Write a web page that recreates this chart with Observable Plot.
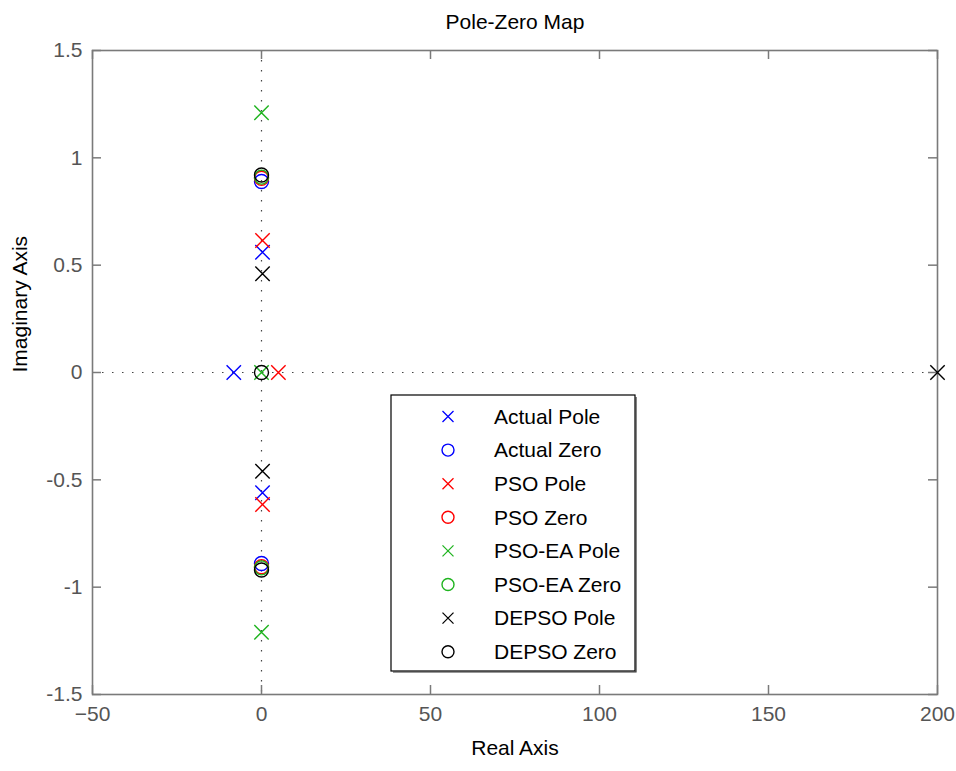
<!DOCTYPE html>
<html>
<head>
<meta charset="utf-8">
<script src="https://cdn.jsdelivr.net/npm/d3@7"></script>
<script src="https://cdn.jsdelivr.net/npm/@observablehq/plot@0.6"></script>
<style>
  html, body { margin: 0; padding: 0; background: #fff; }
  #wrap { position: relative; width: 956px; height: 771px; font-family: "Liberation Sans", Arial, sans-serif; }
  #legend { position: absolute; left: 390px; top: 394px; }
</style>
</head>
<body>
<div id="wrap"></div>
<script>
// ---- data ----
const xTicks = [-50, 0, 50, 100, 150, 200];
const yTicks = [-1.5, -1, -0.5, 0, 0.5, 1, 1.5];
const yTickLabels = ["-1.5", "-1", "-0.5", "0", "0.5", "1", "1.5"];

const seriesNames = ["Actual Pole", "Actual Zero", "PSO Pole", "PSO Zero", "PSO-EA Pole", "PSO-EA Zero", "DEPSO Pole", "DEPSO Zero"];
const seriesColors = ["#0000ff", "#0000ff", "#ff0000", "#ff0000", "#1fb41f", "#1fb41f", "#000000", "#000000"];
const seriesSymbols = ["times", "circle", "times", "circle", "times", "circle", "times", "circle"];

const actualPoleRe = [-8.2, 0.3, 0.3];
const actualPoleIm = [0, 0.56, -0.56];
const actualZeroRe = [0, 0];
const actualZeroIm = [0.89, -0.89];
const psoPoleRe = [5.0, 0.3, 0.3];
const psoPoleIm = [0, 0.615, -0.615];
const psoZeroRe = [0, 0];
const psoZeroIm = [0.905, -0.905];
const psoeaPoleRe = [0, 0, 0];
const psoeaPoleIm = [0, 1.21, -1.21];
const psoeaZeroRe = [0, 0];
const psoeaZeroIm = [0.91, -0.91];
const depsoPoleRe = [200, 0.3, 0.3];
const depsoPoleIm = [0, 0.46, -0.46];
const depsoZeroRe = [0, 0, 0];
const depsoZeroIm = [0.92, -0.92, 0];

const seriesRe = [actualPoleRe, actualZeroRe, psoPoleRe, psoZeroRe, psoeaPoleRe, psoeaZeroRe, depsoPoleRe, depsoZeroRe];
const seriesIm = [actualPoleIm, actualZeroIm, psoPoleIm, psoZeroIm, psoeaPoleIm, psoeaZeroIm, depsoPoleIm, depsoZeroIm];

// ---- layout ----
const W = 956, H = 771;
const mL = 92, mR = 19, mT = 50, mB = 77;
const plotW = W - mL - mR, plotH = H - mT - mB;
const tickLen = 9;
const axisGray = "#7a7a7a";
const labelGray = "#555555";
const fontSize = 21;

const seriesMarks = seriesNames.map((name, i) => {
  const data = seriesRe[i].map((re, j) => ({re, im: seriesIm[i][j]}));
  const isCircle = seriesSymbols[i] === "circle";
  return Plot.dot(data, {
    x: "re", y: "im",
    symbol: seriesSymbols[i],
    stroke: seriesColors[i],
    r: isCircle ? 7 : 6.6,
    strokeWidth: 1.4, fill: "none"
  });
});

const marks = [
  Plot.ruleX([0], {stroke: "#444", strokeDasharray: "1.5,8.5", strokeWidth: 1.2}),
  Plot.ruleY([0], {stroke: "#444", strokeDasharray: "1.5,8.5", strokeWidth: 1.2}),
  // inward ticks (bottom, top, left, right)
  Plot.tickX(xTicks, {x: d => d, insetTop: plotH - tickLen, stroke: axisGray, strokeWidth: 1.5}),
  Plot.tickX(xTicks, {x: d => d, insetBottom: plotH - tickLen, stroke: axisGray, strokeWidth: 1.5}),
  Plot.tickY(yTicks, {y: d => d, insetRight: plotW - tickLen, stroke: axisGray, strokeWidth: 1.5}),
  Plot.tickY(yTicks, {y: d => d, insetLeft: plotW - tickLen, stroke: axisGray, strokeWidth: 1.5}),
  Plot.frame({stroke: axisGray, strokeWidth: 1.6}),
  Plot.axisX(xTicks, {tickSize: 0, tickPadding: 12, fontSize, fill: labelGray, label: null}),
  Plot.axisY(yTicks, {tickSize: 0, tickPadding: 10, fontSize, fill: labelGray, label: null,
    tickFormat: d => yTickLabels[yTicks.indexOf(d)]}),
  ...seriesMarks,
  Plot.text(["Pole-Zero Map"], {frameAnchor: "top", lineAnchor: "middle", dy: -28, fontSize, fill: "#000"}),
  Plot.text(["Real Axis"], {frameAnchor: "bottom", lineAnchor: "middle", dy: 54, fontSize, fill: "#000"}),
  Plot.text(["Imaginary Axis"], {frameAnchor: "left", dx: -72, rotate: -90, fontSize, fill: "#000"})
];

const chart = Plot.plot({
  width: W, height: H,
  marginLeft: mL, marginRight: mR, marginTop: mT, marginBottom: mB,
  style: {fontFamily: '"Liberation Sans", Arial, sans-serif', background: "#fff", overflow: "visible"},
  x: {domain: [-50, 200], axis: null},
  y: {domain: [-1.5, 1.5], axis: null},
  marks
});
const wrap = document.getElementById("wrap");
wrap.appendChild(chart);

// ---- legend (inside the axes, like MATLAB) ----
const lgW = 244, lgH = 276;
const rowTop = 21.5, rowStep = 33.6;
const ns = "http://www.w3.org/2000/svg";
const lg = document.createElementNS(ns, "svg");
lg.setAttribute("id", "legend");
lg.setAttribute("width", lgW + 3);
lg.setAttribute("height", lgH + 3);
let html = `<rect x="1" y="1" width="${lgW}" height="${lgH}" fill="#fff" stroke="#000" stroke-width="1.2"/>`;
html += `<path d="M${lgW + 2},3V${lgH + 2}H3" fill="none" stroke="#333" stroke-width="1.2"/>`;
seriesNames.forEach((name, i) => {
  const cy = 1 + rowTop + i * rowStep, cx = 58;
  const c = seriesColors[i];
  if (seriesSymbols[i] === "times") {
    const s = 5.5;
    html += `<path d="M${cx - s},${cy - s}L${cx + s},${cy + s}M${cx - s},${cy + s}L${cx + s},${cy - s}" stroke="${c}" stroke-width="1.3" fill="none"/>`;
  } else {
    html += `<circle cx="${cx}" cy="${cy}" r="6" stroke="${c}" stroke-width="1.4" fill="none"/>`;
  }
  html += `<text x="104" y="${cy}" dy="0.35em" font-size="${fontSize}" font-family='"Liberation Sans", Arial, sans-serif' fill="#000">${name}</text>`;
});
lg.innerHTML = html;
wrap.appendChild(lg);
</script>
</body>
</html>
